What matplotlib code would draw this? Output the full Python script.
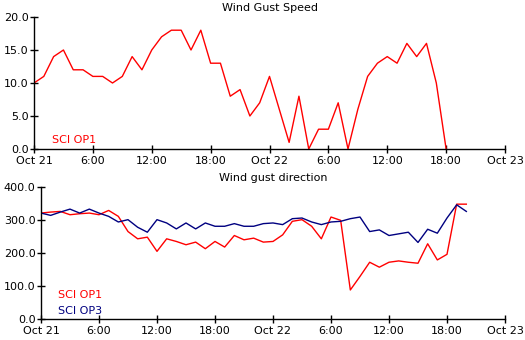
import matplotlib
matplotlib.use("Agg")
import matplotlib.pyplot as plt
import numpy as np

# hours since Oct 21 00:00
speed_hours = list(range(0, 43))
speed_op1 = [10, 11, 14, 15, 12, 12, 11, 11, 10, 11, 14, 12, 15, 17, 18, 18,
             15, 18, 13, 13, 8, 9, 5, 7, 11, 6, 1, 8, 0, 3, 3, 7, 0, 6, 11,
             13, 14, 13, 16, 14, 16, 10, 0]

dir_hours = list(range(0, 45))
dir_op1 = [321, 324, 326, 316, 319, 321, 316, 329, 311, 265, 243, 248, 205,
           243, 235, 225, 233, 213, 235, 218, 253, 240, 245, 233, 235, 255,
           296, 301, 281, 243, 309, 299, 88, 129, 172, 157, 172, 176, 172,
           169, 228, 179, 196, 348, 348]
dir_op3 = [321, 314, 324, 333, 321, 333, 321, 311, 294, 301, 278, 263, 301,
           291, 273, 291, 273, 291, 281, 281, 289, 281, 281, 289, 291, 286,
           304, 306, 294, 286, 294, 296, 304, 309, 265, 270, 253, 258, 263,
           232, 272, 260, 306, 346, 326]

tick_hours = [0, 6, 12, 18, 24, 30, 36, 42, 48]
tick_labels = ["Oct 21", "6:00", "12:00", "18:00", "Oct 22", "6:00",
               "12:00", "18:00", "Oct 23"]

RED = "#ff0000"
NAVY = "#000080"

plt.rcParams['font.family'] = 'DejaVu Sans'
plt.rcParams['font.size'] = 8

fig = plt.figure(figsize=(5.25, 3.4), dpi=100)
W, H = 525.0, 340.0


def style(ax):
    for s in ['top', 'right']:
        ax.spines[s].set_visible(False)
    ax.spines['left'].set_linewidth(1)
    ax.spines['bottom'].set_linewidth(1)
    ax.set_xlim(0, 48)
    ax.set_xticks(tick_hours)
    ax.set_xticklabels(tick_labels)
    ax.tick_params(direction='inout', length=6, width=1, labelsize=8)
    ax.tick_params(axis='x', pad=2)
    ax.tick_params(axis='y', pad=1)


# top panel
ax1 = fig.add_axes([34 / W, 1 - 149 / H, (505 - 34) / W, 132 / H])
ax1.plot(speed_hours, speed_op1, color=RED, lw=1)
ax1.set_ylim(0, 20)
ax1.set_yticks([0, 5, 10, 15, 20])
ax1.set_yticklabels(["%.1f" % v for v in [0, 5, 10, 15, 20]])
style(ax1)
ax1.set_title("Wind Gust Speed", fontsize=8, pad=4)
ax1.text(52 / W, 1 - 140 / H, "SCI OP1", color=RED, fontsize=8,
         transform=fig.transFigure, va='center')

# bottom panel
ax2 = fig.add_axes([41 / W, 1 - 319 / H, (505 - 41) / W, 132 / H])
ax2.plot(dir_hours, dir_op1, color=RED, lw=1)
ax2.plot(dir_hours, dir_op3, color=NAVY, lw=1)
ax2.set_ylim(0, 400)
ax2.set_yticks([0, 100, 200, 300, 400])
ax2.set_yticklabels(["%.1f" % v for v in [0, 100, 200, 300, 400]])
style(ax2)
ax2.set_title("Wind gust direction", fontsize=8, pad=4)
ax2.text(58 / W, 1 - 295 / H, "SCI OP1", color=RED, fontsize=8,
         transform=fig.transFigure, va='center')
ax2.text(58 / W, 1 - 311 / H, "SCI OP3", color=NAVY, fontsize=8,
         transform=fig.transFigure, va='center')

fig.savefig("out.png", dpi=100)
